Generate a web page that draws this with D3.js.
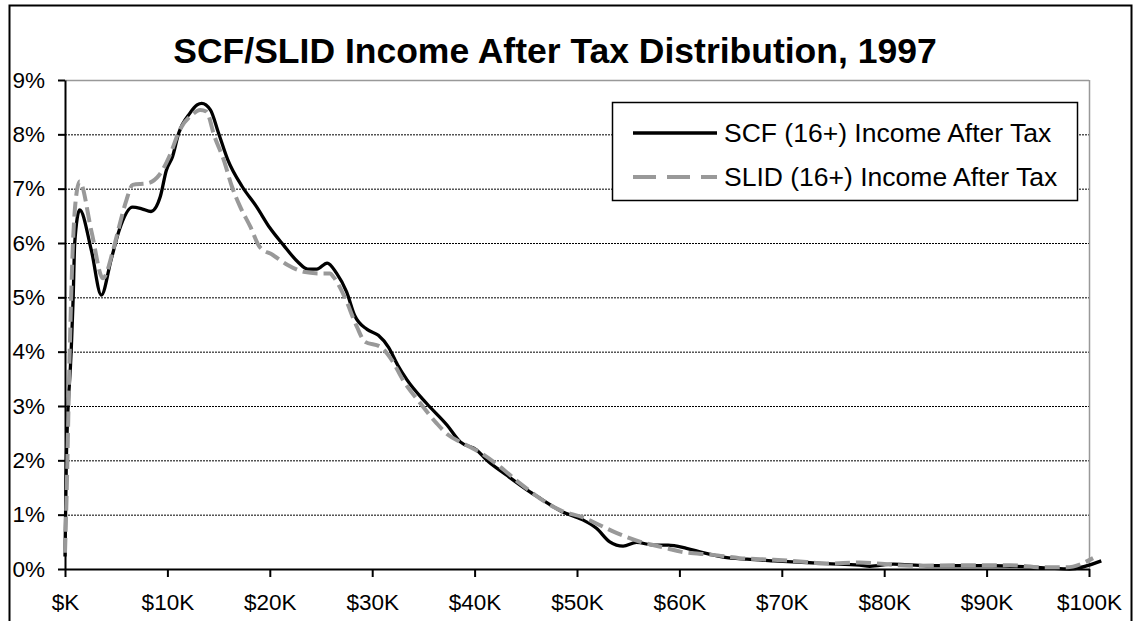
<!DOCTYPE html>
<html>
<head>
<meta charset="utf-8">
<script src="https://cdn.jsdelivr.net/npm/d3@7"></script>
<style>
  html, body { margin: 0; padding: 0; background: #fff; }
  svg { display: block; font-family: "Liberation Sans", Arial, sans-serif; }
</style>
</head>
<body>
<svg id="chart" width="1135" height="621"></svg>
<script>
// Income in $K, share of population in %
const scfIncome = [0, 0.13, 0.6, 0.8, 0.95, 1.43, 2.57, 3.55, 4.5, 5.3, 6.6, 7.5, 8.4, 9.3, 9.9, 10.5, 11.1, 12.2, 12.9, 13.35, 14.2, 15.0, 15.9, 17.3, 18.7, 20.0, 21.3, 22.7, 23.7, 24.6, 25.6, 26.5, 27.5, 28.3, 29.5, 30.6, 31.6, 32.5, 33.4, 35.3, 37.3, 38.6, 40.2, 41.2, 43.1, 45.4, 46.4, 48.5, 50.5, 51.9, 53.2, 54.5, 55.8, 57.5, 58.9, 60.7, 62.3, 64.3, 66.6, 69.2, 72.4, 74.4, 77.6, 78.6, 80.9, 84.1, 90.6, 95.9, 98.1, 101.2];
const scfShare = [0.23, 2.0, 4.0, 5.0, 6.0, 6.61, 5.87, 5.04, 5.69, 6.24, 6.66, 6.63, 6.58, 6.85, 7.34, 7.59, 8.02, 8.39, 8.54, 8.57, 8.45, 8.02, 7.53, 7.04, 6.67, 6.28, 5.97, 5.66, 5.52, 5.52, 5.63, 5.45, 5.10, 4.66, 4.41, 4.30, 4.08, 3.75, 3.48, 3.05, 2.65, 2.34, 2.19, 2.00, 1.73, 1.42, 1.30, 1.06, 0.91, 0.75, 0.50, 0.42, 0.49, 0.44, 0.44, 0.38, 0.30, 0.22, 0.18, 0.15, 0.12, 0.10, 0.07, 0.05, 0.09, 0.06, 0.06, 0.02, 0.0, 0.15];

const slidIncome = [0, 0.15, 0.46, 0.78, 1.0, 1.43, 2.6, 3.7, 4.7, 5.2, 6.0, 6.6, 8.1, 9.2, 10.25, 11.2, 12.4, 13.2, 13.8, 14.6, 15.5, 16.3, 17.1, 18.1, 19.0, 20.3, 21.7, 23.3, 24.9, 25.9, 26.2, 27.3, 28.5, 29.3, 30.8, 31.9, 33.0, 34.7, 36.3, 37.4, 38.9, 40.9, 42.5, 44.4, 48.5, 50.6, 52.2, 53.9, 56.2, 58.8, 60.1, 63.3, 65.9, 69.2, 72.4, 74.4, 77.6, 82.5, 87.4, 92.3, 95.5, 97.8, 100.4];
const slidShare = [0.3, 1.3, 4.0, 6.0, 6.7, 7.13, 6.2, 5.35, 5.87, 6.24, 6.79, 7.07, 7.10, 7.25, 7.62, 8.08, 8.36, 8.45, 8.42, 7.96, 7.53, 7.04, 6.67, 6.30, 5.93, 5.78, 5.60, 5.47, 5.44, 5.44, 5.38, 5.01, 4.46, 4.18, 4.09, 3.85, 3.48, 3.05, 2.68, 2.47, 2.31, 2.10, 1.88, 1.58, 1.07, 0.95, 0.81, 0.66, 0.50, 0.38, 0.32, 0.26, 0.20, 0.17, 0.13, 0.10, 0.12, 0.06, 0.07, 0.07, 0.03, 0.03, 0.20];

const xTicks = [0, 10, 20, 30, 40, 50, 60, 70, 80, 90, 100];
const xTickLabels = ["$K", "$10K", "$20K", "$30K", "$40K", "$50K", "$60K", "$70K", "$80K", "$90K", "$100K"];
const yTicks = [0, 1, 2, 3, 4, 5, 6, 7, 8, 9];
const yTickLabels = ["0%", "1%", "2%", "3%", "4%", "5%", "6%", "7%", "8%", "9%"];

const seriesNames = ["SCF (16+) Income After Tax", "SLID (16+) Income After Tax"];
const titleText = "SCF/SLID Income After Tax Distribution, 1997";

const svg = d3.select("#chart");
const plot = { left: 65, right: 1089, top: 80, bottom: 569 };

const x = d3.scaleLinear().domain([0, 100]).range([plot.left, plot.right]);
const y = d3.scaleLinear().domain([0, 9]).range([plot.bottom, plot.top]);

// outer frame
svg.append("rect")
  .attr("x", 9.5).attr("y", 5.5)
  .attr("width", 1122).attr("height", 640)
  .attr("fill", "#fff").attr("stroke", "#000").attr("stroke-width", 2);

// title
svg.append("text")
  .attr("x", 555).attr("y", 63)
  .attr("text-anchor", "middle")
  .attr("font-size", 35.5).attr("font-weight", "bold")
  .text(titleText);

// dotted gridlines; the top edge of the plot is a gray border
svg.append("g").selectAll("line")
  .data(yTicks.filter(d => d > 0 && d < 9))
  .join("line")
  .attr("x1", plot.left).attr("x2", plot.right)
  .attr("y1", d => y(d) + 0.5).attr("y2", d => y(d) + 0.5)
  .attr("stroke", "#000").attr("stroke-width", 1)
  .attr("stroke-dasharray", "2,1");

svg.append("line")
  .attr("x1", plot.left).attr("x2", plot.right)
  .attr("y1", y(9) + 0.5).attr("y2", y(9) + 0.5)
  .attr("stroke", "#999").attr("stroke-width", 1.5);
svg.append("line")
  .attr("x1", plot.right + 0.5).attr("x2", plot.right + 0.5)
  .attr("y1", plot.top).attr("y2", plot.bottom)
  .attr("stroke", "#999").attr("stroke-width", 1.5);

// axes
const yAxis = d3.axisLeft(y)
  .tickValues(yTicks)
  .tickSize(7).tickSizeOuter(0).tickPadding(13)
  .tickFormat((d, i) => yTickLabels[i]);
const gy = svg.append("g").attr("transform", `translate(${plot.left},0)`).call(yAxis);

const xAxis = d3.axisBottom(x)
  .tickValues(xTicks)
  .tickSize(8).tickSizeOuter(0).tickPadding(17)
  .tickFormat((d, i) => xTickLabels[i]);
const gx = svg.append("g").attr("transform", `translate(0,${plot.bottom})`).call(xAxis);

[gx, gy].forEach(g => {
  g.select(".domain").attr("stroke", "#000").attr("stroke-width", 2);
  g.selectAll(".tick line").attr("stroke", "#000").attr("stroke-width", 2);
  g.selectAll(".tick text")
    .attr("fill", "#000")
    .attr("font-size", 22.5)
    .attr("font-family", "'Liberation Sans', Arial, sans-serif");
});

// series lines (SLID drawn over SCF)
const scfData = scfIncome.map((k, i) => [k, scfShare[i]]);
const slidData = slidIncome.map((k, i) => [k, slidShare[i]]);

const line = d3.line()
  .x(d => x(d[0])).y(d => y(d[1]))
  .curve(d3.curveMonotoneX);

svg.append("path")
  .datum(scfData)
  .attr("d", line)
  .attr("fill", "none")
  .attr("stroke", "#000").attr("stroke-width", 3.3)
  .attr("stroke-linejoin", "round");

svg.append("path")
  .datum(slidData)
  .attr("d", line)
  .attr("fill", "none")
  .attr("stroke", "#999").attr("stroke-width", 4)
  .attr("stroke-dasharray", "15,6");

// legend
const lg = svg.append("g");
lg.append("rect")
  .attr("x", 612.5).attr("y", 102.5)
  .attr("width", 465).attr("height", 98)
  .attr("fill", "#fff").attr("stroke", "#000").attr("stroke-width", 1.5);

const legendRows = [
  { name: seriesNames[0], color: "#000", width: 3.3, dash: null, yy: 133 },
  { name: seriesNames[1], color: "#999", width: 4, dash: "23,11", yy: 177 }
];
legendRows.forEach(r => {
  lg.append("line")
    .attr("x1", 633).attr("x2", 717)
    .attr("y1", r.yy).attr("y2", r.yy)
    .attr("stroke", r.color).attr("stroke-width", r.width)
    .attr("stroke-dasharray", r.dash);
  lg.append("text")
    .attr("x", 724).attr("y", r.yy)
    .attr("dy", "0.35em")
    .attr("font-size", 26.5)
    .text(r.name);
});
</script>
</body>
</html>
